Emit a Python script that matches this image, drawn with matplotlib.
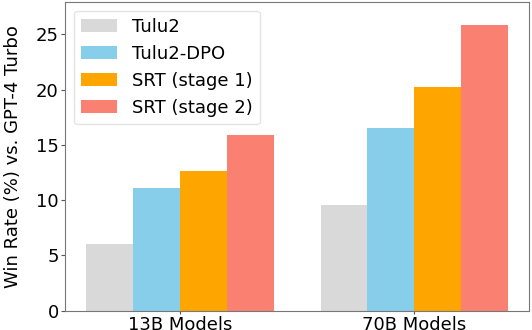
import matplotlib
matplotlib.use("Agg")
import matplotlib.pyplot as plt
import numpy as np

groups = ["13B Models", "70B Models"]
series = ["Tulu2", "Tulu2-DPO", "SRT (stage 1)", "SRT (stage 2)"]
tulu2 = [6.0, 9.6]
tulu2_dpo = [11.1, 16.5]
srt1 = [12.6, 20.2]
srt2 = [15.9, 25.8]
colors = ["#d9d9d9", "#87ceeb", "#ffa500", "#fa8072"]

values = [tulu2, tulu2_dpo, srt1, srt2]

plt.rcParams['font.family'] = ['DejaVu Sans']
fig = plt.figure(figsize=(5.32, 3.30), dpi=100)
ax = fig.add_axes([0.1222, 0.0585, 0.8727, 0.9364])

x = np.arange(len(groups))
w = 0.2
for i, (name, vals, c) in enumerate(zip(series, values, colors)):
    ax.bar(x + (i - 1.5) * w, vals, w, label=name, color=c)

ax.set_xticks(x)
ax.set_xticklabels(groups, fontsize=13)
ax.set_ylim(0, 27.95)
ax.set_yticks([0, 5, 10, 15, 20, 25])
ax.tick_params(axis='y', labelsize=13, length=3, pad=1.5, color="#555555")
ax.tick_params(axis='x', length=2.5, pad=1, color="#555555")
ax.set_ylabel("Win Rate (%) vs. GPT-4 Turbo", fontsize=13, labelpad=10)
for s in ax.spines.values():
    s.set_color("#777777")

leg = ax.legend(loc="upper left", fontsize=13, handlelength=2.0,
                borderaxespad=0.5, labelspacing=0.5)
leg.get_frame().set_edgecolor("#dddddd")

fig.savefig("out.png", dpi=100)
